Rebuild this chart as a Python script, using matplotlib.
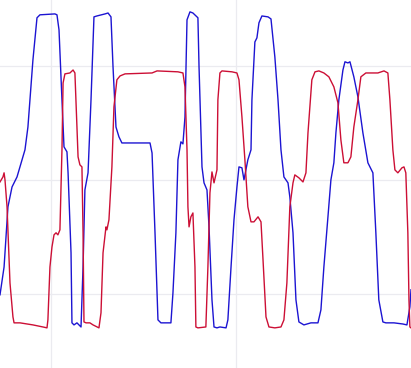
import numpy as np
import matplotlib
matplotlib.use("Agg")
import matplotlib.pyplot as plt

# blue trace (time, value)
blue_t = [72.4, 74.6, 76.7, 78.9, 81.6, 85.9, 87.5, 90.2, 92.4, 94.0,
          102.1, 103.2, 104.3, 105.9, 107.0, 108.6, 109.2, 110.8, 111.3, 112.4,
          114.0, 116.2, 117.3, 118.3, 120.0, 121.6, 123.2, 124.8, 129.2, 130.8,
          132.4, 133.5, 135.1, 136.7, 138.3, 148.1, 153.5, 154.6, 156.2, 157.8,
          159.4, 164.8, 165.9, 167.5, 168.6, 170.2, 171.3, 172.4, 173.5, 175.1,
          176.7, 179.4, 180.0, 181.6, 182.7, 184.3, 185.4, 187.0, 188.1, 189.7,
          191.3, 194.6, 195.6, 197.3, 198.9, 200.5, 201.6, 203.2, 204.3, 206.4,
          208.1, 208.6, 210.2, 211.3, 212.4, 214.0, 217.3, 218.9, 221.0, 222.7,
          224.3, 225.9, 228.1, 229.1, 230.8, 232.4, 234.0, 236.7, 240.5, 244.3,
          245.9, 247.5, 249.7, 251.3, 252.9, 254.0, 255.6, 257.8, 258.9, 260.5,
          261.6, 263.7, 265.9, 268.6, 271.3, 274.0, 275.6, 277.2, 279.4, 281.0,
          285.4, 290.2, 292.4, 294.0, 294.6]
blue_v = [-0.4, 11.8, 38.2, 46.9, 51.3, 63.2, 73.2, 102.6, 121.1, 122.4,
          122.8, 122.4, 115.8, 85.1, 64.5, 62.3, 53.1, 18.0, -12.7, -13.6,
          -12.7, -14.5, 11.8, 45.6, 53.1, 85.1, 121.5, 121.9, 122.8, 123.2,
          121.5, 99.6, 73.2, 68.9, 66.2, 66.2, 66.2, 61.8, 26.8, -11.4,
          -12.7, -12.7, 0.4, 26.8, 58.8, 66.7, 65.8, 77.6, 120.2, 123.7,
          123.2, 121.1, 99.6, 55.7, 48.7, 45.6, 29.4, -2.6, -14.5, -14.9,
          -14.5, -14.9, -11.4, 11.8, 32.5, 46.9, 55.7, 55.3, 50.0, 58.8,
          63.2, 85.1, 110.5, 112.3, 118.9, 121.9, 121.5, 120.6, 103.9, 85.1,
          63.2, 51.3, 48.7, 42.5, 26.8, -2.6, -12.3, -13.6, -12.7, -12.7,
          -7.0, 11.8, 33.8, 50.0, 57.5, 70.6, 85.1, 98.2, 101.8, 101.3,
          101.8, 95.2, 86.4, 70.6, 57.5, 53.1, 26.8, -2.6, -12.3, -12.7,
          -12.7, -13.2, -13.6, -5.7, 1.8]

# red trace (time, value)
red_t = [72.4, 74.0, 74.6, 75.1, 76.2, 77.8, 79.4, 80.0, 83.2, 90.2,
         95.6, 97.8, 98.3, 99.4, 100.5, 101.6, 102.7, 103.7, 104.8, 105.9,
         106.5, 107.5, 110.2, 111.9, 112.9, 114.0, 114.6, 115.6, 116.7, 117.3,
         117.8, 118.9, 121.0, 122.7, 125.9, 127.0, 128.1, 129.7, 130.2, 131.3,
         132.9, 134.0, 135.6, 137.3, 140.0, 154.6, 157.3, 168.6, 171.3, 172.4,
         173.5, 174.0, 174.6, 175.6, 176.7, 177.8, 178.3, 179.4, 183.7, 184.8,
         185.9, 187.0, 188.1, 189.7, 190.2, 191.3, 192.4, 197.8, 200.5, 201.6,
         203.2, 204.8, 206.4, 208.1, 209.7, 211.9, 213.5, 214.6, 216.2, 217.8,
         221.0, 224.3, 225.9, 227.5, 229.1, 230.8, 231.8, 234.0, 236.2, 237.8,
         238.9, 241.0, 242.7, 244.8, 247.5, 250.2, 252.9, 255.1, 256.7, 258.3,
         260.5, 262.1, 263.7, 265.9, 267.5, 270.2, 276.7, 280.0, 282.1, 283.2,
         284.8, 285.9, 287.5, 289.7, 290.8, 291.8, 292.9, 293.5, 294.0, 294.6]
red_v = [49.1, 51.3, 53.1, 50.0, 38.2, 4.8, -10.1, -12.7, -12.7, -13.6,
         -14.5, -14.9, -11.4, 11.8, 20.6, 25.9, 26.8, 25.9, 28.1, 63.2,
         92.5, 96.5, 96.9, 98.2, 96.9, 73.2, 60.1, 56.6, 55.7, 26.8,
         -12.3, -12.7, -12.7, -13.6, -14.9, -8.3, 18.0, 29.4, 28.1, 32.5,
         55.7, 82.0, 93.9, 95.6, 96.5, 96.9, 97.8, 97.4, 96.9, 90.8,
         63.2, 38.2, 29.4, 33.8, 35.5, 11.8, -14.5, -14.9, -14.5, 11.8,
         44.3, 53.5, 48.7, 54.4, 85.1, 96.9, 97.8, 97.4, 96.9, 93.9,
         77.6, 58.8, 38.2, 31.6, 31.6, 33.8, 31.6, 14.9, -10.1, -14.5,
         -14.9, -14.5, -11.4, 4.8, 38.2, 48.7, 52.2, 50.9, 49.1, 53.1,
         70.6, 93.9, 97.4, 97.8, 96.9, 95.2, 90.8, 83.8, 67.5, 57.5,
         57.5, 60.1, 73.2, 85.1, 95.2, 96.9, 96.9, 97.8, 96.9, 85.1,
         63.2, 54.4, 53.1, 55.3, 55.7, 53.1, 26.8, -2.6, -14.5, -14.9]

fig = plt.figure(figsize=(4.11, 3.68), dpi=100)
ax = fig.add_axes([0, 0, 1, 1])
ax.plot(blue_t, blue_v, color="#1c14d2", linewidth=1.0)
ax.plot(red_t, red_v, color="#cc0f35", linewidth=1.0)

ax.set_xlim(72.4, 294.6)
ax.set_ylim(-32.5, 128.9)
ax.set_xticks([100, 200])
ax.set_yticks([0, 50, 100])
ax.grid(True, color="#ebebf0", linewidth=0.9)
ax.set_axisbelow(True)
ax.tick_params(length=0, labelbottom=False, labelleft=False)
for s in ax.spines.values():
    s.set_visible(False)

fig.savefig("out.png", dpi=100)
